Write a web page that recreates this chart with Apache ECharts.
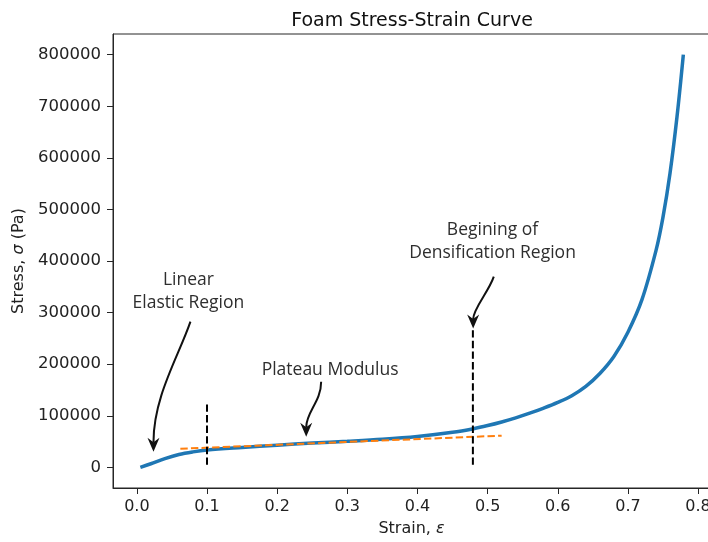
<!DOCTYPE html>
<html>
<head>
<meta charset="utf-8">
<script src="https://cdn.jsdelivr.net/npm/echarts@6/dist/echarts.min.js"></script>
<style>
  html, body { margin: 0; padding: 0; background: #fff; }
  #chart { width: 708px; height: 542px; }
</style>
</head>
<body>
<div id="chart"></div>
<script>
// Measured compression curve of the foam sample
const strain = [0.005, 0.02, 0.04, 0.06, 0.08, 0.10, 0.15, 0.20, 0.25, 0.30, 0.35, 0.40, 0.45, 0.48, 0.50,
                0.52, 0.54, 0.56, 0.58, 0.60, 0.62, 0.64, 0.66, 0.68, 0.70, 0.72, 0.74, 0.75, 0.76, 0.77, 0.779];
const stress = [0, 7000, 17000, 25000, 30000, 33500, 38500, 43000, 47000, 50500, 54500, 60000, 68000, 75000, 81000,
                88000, 96000, 105000, 115000, 126000, 139000, 157000, 182000, 215000, 262000, 325000, 420000, 485000,
                570000, 680000, 800000];

// Linear fit through the plateau region
const plateauStrain = [0.062, 0.52];
const plateauStress = [36000, 61500];

// Region boundary markers (vertical dashed lines)
const boundaryStrain = [0.1, 0.479];
const boundaryLow = [5000, 5000];
const boundaryHigh = [125000, 266000];

// Annotations: label, label anchor, arrow tail, arrow tip (data units)
const noteText = ['Linear\nElastic Region', 'Plateau Modulus', 'Begining of\nDensification Region'];
const noteX = [0.0735, 0.2755, 0.507];
const noteY = [341500, 188000, 438500];
const tailX = [0.0764, 0.2627, 0.5088];
const tailY = [282400, 166000, 369600];
const tipX = [0.0237, 0.2414, 0.4794];
const tipY = [30400, 59500, 269000];

// Axis ticks
const xTicks = [0, 0.1, 0.2, 0.3, 0.4, 0.5, 0.6, 0.7, 0.8];
const yTicks = [0, 100000, 200000, 300000, 400000, 500000, 600000, 700000, 800000];

const AX = '#262626';
const TICK_FONT = 'DejaVu Sans';

// bend of each arrow: offsets of the two bezier control points (px)
const arrowBend = [[-12, 35, 0, -55], [0, 20, 0, -25], [-5, 15, 0, -20]];

const chart = echarts.init(document.getElementById('chart'), null, { renderer: 'canvas' });

const curveData = strain.map((s, i) => [s, stress[i]]);
const plateauData = plateauStrain.map((s, i) => [s, plateauStress[i]]);
const noteData = noteText.map((t, i) => [noteX[i], noteY[i], tailX[i], tailY[i], tipX[i], tipY[i], i]);

const boundarySeries = boundaryStrain.map((s, i) => ({
  type: 'line',
  data: [[s, boundaryLow[i]], [s, boundaryHigh[i]]],
  showSymbol: false,
  silent: true,
  z: 5,
  lineStyle: { color: '#000', width: 2, type: [7.4, 3.2] }
}));

function renderNote(params, api) {
  const i = api.value(6);
  const c = api.coord([api.value(0), api.value(1)]);
  const p0 = api.coord([api.value(2), api.value(3)]);
  const p3 = api.coord([api.value(4), api.value(5)]);
  const b = arrowBend[i];
  const c1 = [p0[0] + b[0], p0[1] + b[1]];
  const c2 = [p3[0] + b[2], p3[1] + b[3]];
  // arrow head oriented along the end tangent
  let dx = p3[0] - c2[0], dy = p3[1] - c2[1];
  const len = Math.hypot(dx, dy) || 1;
  dx /= len; dy /= len;
  const nx = -dy, ny = dx;
  const L = 14, W = 6, notch = 4.5;
  const back = [p3[0] - dx * L, p3[1] - dy * L];
  const mid = [p3[0] - dx * (L - notch), p3[1] - dy * (L - notch)];
  return {
    type: 'group',
    children: [
      {
        type: 'text',
        style: {
          text: noteText[i],
          x: c[0], y: c[1],
          align: 'center', verticalAlign: 'middle',
          font: '17.5px "Open Sans"',
          lineHeight: 23,
          fill: '#2e2e2e'
        }
      },
      {
        type: 'bezierCurve',
        shape: { x1: p0[0], y1: p0[1], x2: mid[0], y2: mid[1],
                 cpx1: c1[0], cpy1: c1[1], cpx2: c2[0], cpy2: c2[1] },
        style: { stroke: '#111', lineWidth: 2, fill: null }
      },
      {
        type: 'polygon',
        shape: { points: [p3,
                          [back[0] + nx * W, back[1] + ny * W],
                          mid,
                          [back[0] - nx * W, back[1] - ny * W]] },
        style: { fill: '#111' }
      }
    ]
  };
}

chart.setOption({
  animation: false,
  backgroundColor: '#fff',
  title: {
    text: 'Foam Stress-Strain Curve',
    left: 407, top: 7, textAlign: 'center',
    textStyle: { fontFamily: TICK_FONT, fontSize: 19, fontWeight: 'normal', color: '#111' }
  },
  grid: {
    left: 113, top: 34, width: 597, height: 454,
    outerBoundsMode: 'none', containLabel: false,
    show: true, borderColor: AX, borderWidth: 1, backgroundColor: 'transparent'
  },
  xAxis: {
    type: 'value', min: -0.034, max: 0.817,
    name: '{r|Strain, }{i|ε}', nameLocation: 'middle', nameGap: 33,
    nameTextStyle: {
      rich: {
        r: { fontFamily: TICK_FONT, fontSize: 16, color: '#222' },
        i: { fontFamily: TICK_FONT, fontSize: 16, fontStyle: 'italic', color: '#222' }
      }
    },
    axisLine: { show: true, onZero: false, lineStyle: { color: AX, width: 1 } },
    axisTick: { show: true, inside: false, length: 6, lineStyle: { color: AX }, customValues: xTicks },
    axisLabel: {
      customValues: xTicks, margin: 11,
      fontFamily: TICK_FONT, fontSize: 16, color: '#222',
      formatter: v => v.toFixed(1)
    },
    splitLine: { show: false }
  },
  yAxis: {
    type: 'value', min: -40000, max: 840000,
    name: '{r|Stress, }{i|σ}{r| (Pa)}', nameLocation: 'middle', nameGap: 81, nameRotate: 90,
    nameTextStyle: {
      rich: {
        r: { fontFamily: TICK_FONT, fontSize: 16, color: '#222' },
        i: { fontFamily: TICK_FONT, fontSize: 16, fontStyle: 'italic', color: '#222' }
      }
    },
    axisLine: { show: true, onZero: false, lineStyle: { color: AX, width: 1 } },
    axisTick: { show: true, inside: false, length: 6, lineStyle: { color: AX }, customValues: yTicks },
    axisLabel: {
      customValues: yTicks, margin: 12,
      fontFamily: TICK_FONT, fontSize: 16.5, color: '#222',
      formatter: v => String(v)
    },
    splitLine: { show: false }
  },
  series: [
    {
      type: 'line',
      data: curveData,
      showSymbol: false,
      smooth: 0.35,
      silent: true,
      z: 3,
      lineStyle: { color: '#1f77b4', width: 3.5 }
    },
    {
      type: 'line',
      data: plateauData,
      showSymbol: false,
      silent: true,
      z: 4,
      lineStyle: { color: '#ff7f0e', width: 2, type: [7.4, 3.2] }
    },
    ...boundarySeries,
    {
      type: 'custom',
      data: noteData,
      renderItem: renderNote,
      clip: false,
      silent: true,
      z: 6,
      encode: { x: 0, y: 1 }
    }
  ]
});
</script>
</body>
</html>
